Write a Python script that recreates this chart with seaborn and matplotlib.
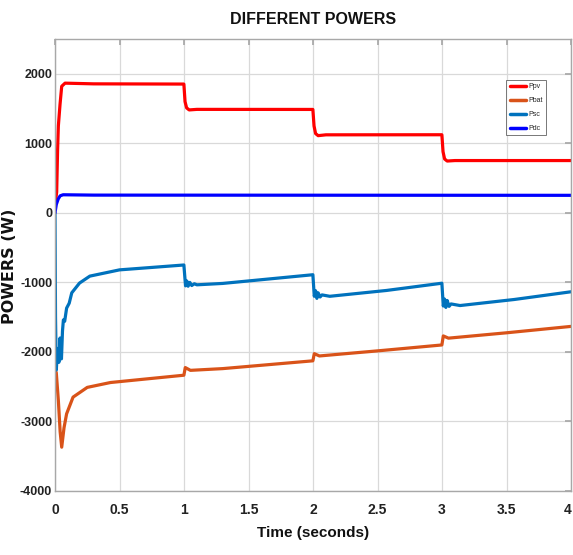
import matplotlib
matplotlib.use("Agg")
import matplotlib.pyplot as plt
import seaborn as sns
import pandas as pd

# ---- data ----
t_ppv = [0.0, 0.013, 0.02, 0.026, 0.039, 0.052, 0.078, 0.3, 0.999, 1.008, 1.02, 1.04, 1.1, 1.999, 2.008, 2.02, 2.04, 2.1, 2.999, 3.008, 3.02, 3.04, 3.1, 4.0]
p_ppv = [100, 300, 900, 1250, 1560, 1820, 1865, 1855, 1852, 1600, 1510, 1480, 1488, 1487, 1250, 1140, 1110, 1122, 1123, 880, 775, 745, 752, 752]

t_pbat = [0.0, 0.01, 0.026, 0.04, 0.052, 0.07, 0.09, 0.14, 0.25, 0.43, 0.7, 0.999, 1.01, 1.05, 1.3, 1.999, 2.01, 2.05, 2.5, 2.999, 3.01, 3.05, 3.5, 4.0]
p_pbat = [-2250, -2300, -2700, -3150, -3370, -3090, -2890, -2650, -2510, -2440, -2390, -2335, -2225, -2265, -2240, -2128, -2025, -2058, -1985, -1900, -1770, -1802, -1725, -1633]

t_psc = [0.0, 0.004, 0.01, 0.02, 0.03, 0.039, 0.05, 0.058, 0.065, 0.075, 0.09, 0.11, 0.13, 0.19, 0.27, 0.5, 0.75, 0.999, 1.012, 1.022, 1.032, 1.045, 1.06, 1.08, 1.1, 1.3, 1.999, 2.01, 2.02, 2.03, 2.04, 2.055, 2.07, 2.13, 2.57, 2.999, 3.01, 3.02, 3.03, 3.04, 3.055, 3.07, 3.14, 3.56, 4.0]
p_psc = [0, -1500, -2260, -1950, -2150, -1800, -2100, -1700, -1540, -1560, -1370, -1300, -1150, -1010, -910, -820, -785, -750, -1050, -980, -1055, -1000, -1045, -1020, -1035, -1015, -890, -1200, -1120, -1230, -1150, -1210, -1180, -1200, -1116, -1012, -1340, -1240, -1360, -1260, -1345, -1310, -1333, -1246, -1135]

t_pdc = [0.0, 0.01, 0.025, 0.04, 0.063, 0.3, 4.0]
p_pdc = [0, 120, 200, 245, 260, 255, 252]

series_names = ["Ppv", "Pbat", "Psc", "Pdc"]
series_colors = ["#ff0000", "#d95319", "#0072bd", "#0000ff"]

x_ticks = [0, 0.5, 1, 1.5, 2, 2.5, 3, 3.5, 4]
x_tick_labels = ["0", "0.5", "1", "1.5", "2", "2.5", "3", "3.5", "4"]
y_ticks = [-4000, -3000, -2000, -1000, 0, 1000, 2000]
y_tick_labels = ["-4000", "-3000", "-2000", "-1000", "0", "1000", "2000"]

title_text = "DIFFERENT POWERS"
xlabel_text = "Time (seconds)"
ylabel_text = "POWERS (W)"

# ---- build long table ----
frames = []
for name, tt, pp in [("Ppv", t_ppv, p_ppv), ("Pbat", t_pbat, p_pbat),
                     ("Psc", t_psc, p_psc), ("Pdc", t_pdc, p_pdc)]:
    frames.append(pd.DataFrame({"t": tt, "p": pp, "series": name}))
df = pd.concat(frames, ignore_index=True)

sns.set_theme(style="white")
fam = ["Liberation Sans", "DejaVu Sans"]
plt.rcParams["font.family"] = fam

fig = plt.figure(figsize=(5.73, 5.55), dpi=100)
ax = fig.add_axes([55 / 573, (555 - 491) / 555, (571 - 55) / 573, (491 - 39) / 555])

sns.lineplot(data=df, x="t", y="p", hue="series", hue_order=series_names,
             palette=dict(zip(series_names, series_colors)),
             estimator=None, sort=False, linewidth=2.3, ax=ax, legend=True)

ax.set_xlim(0, 4)
ax.set_ylim(-4000, 2500)
ax.set_xticks(x_ticks)
ax.set_xticklabels(x_tick_labels)
ax.set_yticks(y_ticks)
ax.set_yticklabels(y_tick_labels)
ax.grid(True, color="#d9d9d9", linewidth=0.9)
ax.set_axisbelow(True)
for s in ax.spines.values():
    s.set_color("#a8a8a8")
    s.set_linewidth(1.0)
ax.tick_params(direction="in", length=4, color="#a8a8a8", labelsize=10,
               labelcolor="#222222", top=True, right=True)
ax.tick_params(axis="x", pad=9)
ax.tick_params(axis="y", pad=2, labelsize=9)
for lab in ax.get_xticklabels() + ax.get_yticklabels():
    lab.set_fontweight("bold")
xlabs = ax.get_xticklabels()
xlabs[-1].set_horizontalalignment("right")

ax.set_xlabel(xlabel_text, fontsize=11, fontweight="bold", labelpad=6, color="#111111")
ax.set_ylabel("")
fig.text(10 / 573, 1 - 266 / 555, ylabel_text, rotation=90, ha="center", va="center",
         fontsize=11.5, fontweight="bold", family=["DejaVu Sans"], color="#111111")
fig.text(313 / 573, 1 - 19 / 555, title_text, ha="center", va="center",
         fontsize=11.5, fontweight="bold", color="#111111")

handles, labels = ax.get_legend_handles_labels()
leg = ax.legend(handles, labels, loc="upper right", bbox_to_anchor=(0.952, 0.91),
                fontsize=5, frameon=True, fancybox=False, edgecolor="#555555",
                handlelength=2.4, handletextpad=0.3, borderpad=0.5, labelspacing=1.0,
                borderaxespad=0)
for line in leg.get_lines():
    line.set_linewidth(2.5)
leg.get_frame().set_linewidth(0.7)

fig.savefig("out.png", dpi=100)
